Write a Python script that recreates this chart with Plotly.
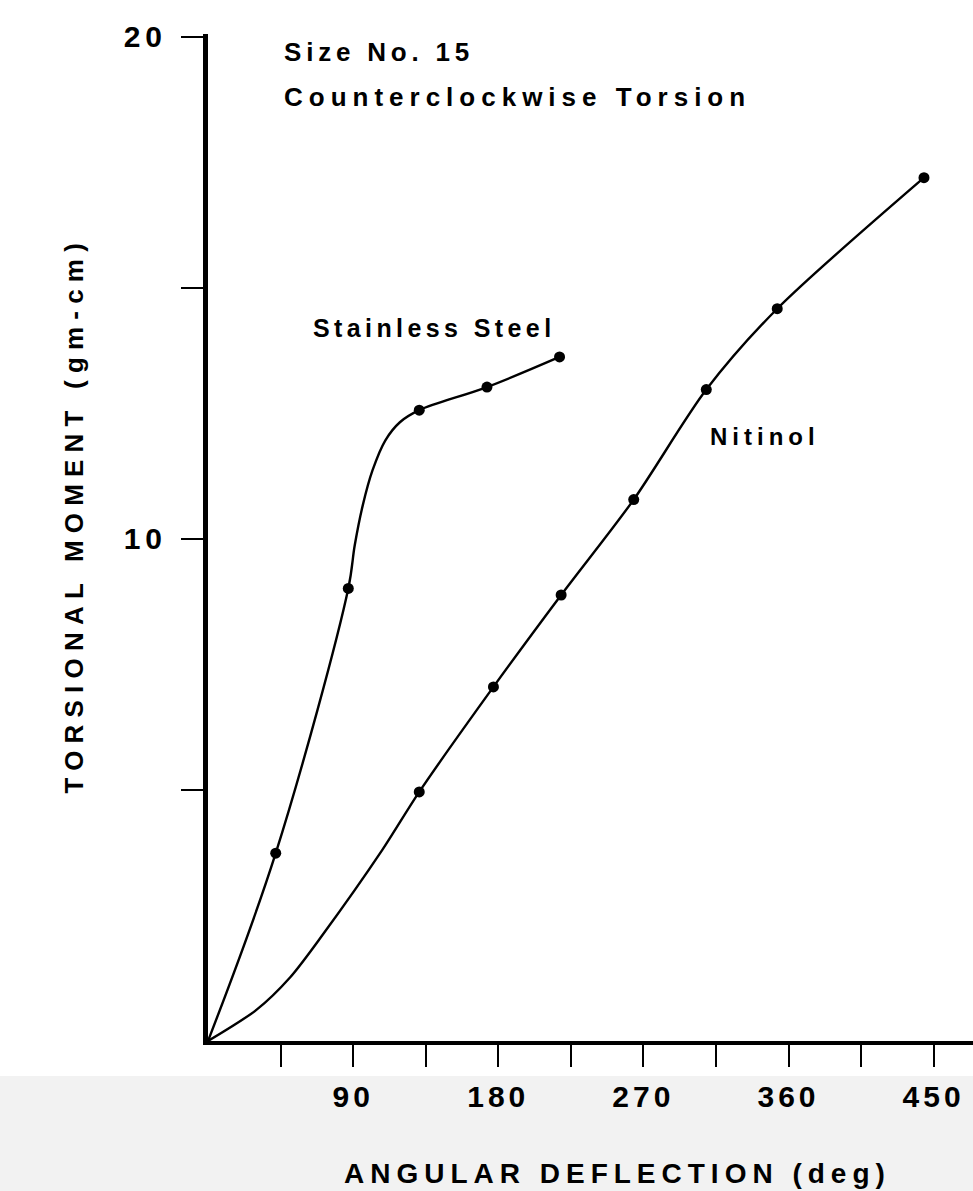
import plotly.graph_objects as go

# Data points (markers)
steel_x = [42, 87, 131, 173, 218]
steel_y = [3.74, 9.01, 12.56, 13.02, 13.62]
nitinol_x = [131, 177, 219, 264, 309, 353, 444]
nitinol_y = [4.96, 7.05, 8.88, 10.78, 12.97, 14.58, 17.19]

# Points (including origin)
steel_curve_x = [0, 42, 87, 91, 96, 102, 110, 119, 131, 173, 218]
steel_curve_y = [0, 3.74, 9.01, 9.87, 10.67, 11.36, 11.96, 12.32, 12.56, 13.02, 13.62]
nitinol_curve_x = [0, 30, 51, 71, 108, 131, 177, 219, 264, 309, 353, 444]
nitinol_curve_y = [0, 0.62, 1.27, 2.11, 3.80, 4.96, 7.05, 8.88, 10.78, 12.97, 14.58, 17.19]

x_tick_vals = [45, 90, 135, 180, 225, 270, 315, 360, 405, 450]
x_tick_text = ["", "90", "", "180", "", "270", "", "360", "", "450"]
y_tick_vals = [5, 10, 15, 20]
y_tick_text = ["", "10", "", "20"]

FONT = "Liberation Sans, Arial, Helvetica, sans-serif"


def sp(t, s):
    return '<span style="letter-spacing:%spx">%s</span>' % (s, t)


fig = go.Figure()
fig.add_trace(go.Scatter(x=steel_curve_x, y=steel_curve_y, mode="lines",
                         line=dict(color="black", width=2.4, shape="spline", smoothing=1.0),
                         hoverinfo="skip"))
fig.add_trace(go.Scatter(x=nitinol_curve_x, y=nitinol_curve_y, mode="lines",
                         line=dict(color="black", width=2.4, shape="spline", smoothing=0.8),
                         hoverinfo="skip"))
fig.add_trace(go.Scatter(x=steel_x, y=steel_y, mode="markers", name="Stainless Steel",
                         marker=dict(color="black", size=11)))
fig.add_trace(go.Scatter(x=nitinol_x, y=nitinol_y, mode="markers", name="Nitinol",
                         marker=dict(color="black", size=11)))

tick_font = dict(size=30, family=FONT, color="black", weight="bold")
fig.update_layout(
    width=973, height=1191,
    margin=dict(l=208, r=0, t=34, b=150, autoexpand=False),
    plot_bgcolor="white", paper_bgcolor="white",
    showlegend=False,
    font=dict(family=FONT, color="black"),
    xaxis=dict(range=[0, 474.4], showline=True, linewidth=4, linecolor="black",
               ticks="outside", ticklen=22, tickwidth=2, tickcolor="black",
               tickvals=x_tick_vals, ticktext=[sp(t, 4) for t in x_tick_text],
               tickfont=tick_font, automargin=False,
               ticklabelstandoff=4,
               showgrid=False, zeroline=False, fixedrange=True),
    yaxis=dict(range=[0, 20.05], showline=True, linewidth=5, linecolor="black",
               ticks="outside", ticklen=22, tickwidth=2, tickcolor="black",
               tickvals=y_tick_vals, ticktext=[sp(t, 5) for t in y_tick_text],
               tickfont=tick_font, automargin=False,
               ticklabelstandoff=8,
               showgrid=False, zeroline=False, fixedrange=True),
)

fig.add_shape(type="rect", xref="paper", yref="paper", x0=-0.5, x1=1.5,
              y0=-0.2, y1=-0.0347, fillcolor="#f2f2f2", line=dict(width=0),
              layer="below")

ann_font = dict(family=FONT, size=26, color="black", weight="bold")
fig.add_annotation(x=46, y=19.69, xref="x", yref="y", text=sp("Size No. 15", 4.8),
                   showarrow=False, xanchor="left", yanchor="middle", font=ann_font)
fig.add_annotation(x=46, y=18.8, xref="x", yref="y", text=sp("Counterclockwise Torsion", 6),
                   showarrow=False, xanchor="left", yanchor="middle", font=ann_font)
fig.add_annotation(x=64, y=14.2, xref="x", yref="y", text=sp("Stainless Steel", 4.4),
                   showarrow=False, xanchor="left", yanchor="middle",
                   font=dict(family=FONT, size=25, color="black", weight="bold"))
fig.add_annotation(x=310, y=12.04, xref="x", yref="y", text=sp("Nitinol", 5),
                   showarrow=False, xanchor="left", yanchor="middle",
                   font=dict(family=FONT, size=24, color="black", weight="bold"))
fig.add_annotation(x=0.535, y=-0.132, xref="paper", yref="paper",
                   text=sp("ANGULAR DEFLECTION (deg)", 6),
                   showarrow=False, xanchor="center", yanchor="middle",
                   font=dict(family=FONT, size=28, color="black", weight="bold"))
fig.add_annotation(x=-0.175, y=0.523, xref="paper", yref="paper",
                   text=sp("TORSIONAL MOMENT (gm-cm)", 7.2), textangle=-90,
                   showarrow=False, xanchor="center", yanchor="middle",
                   font=dict(family=FONT, size=26, color="black", weight="bold"))

fig.write_html("out.html", config={"displayModeBar": False},
               post_script="document.body.style.margin='0';document.body.style.overflow='hidden';")
